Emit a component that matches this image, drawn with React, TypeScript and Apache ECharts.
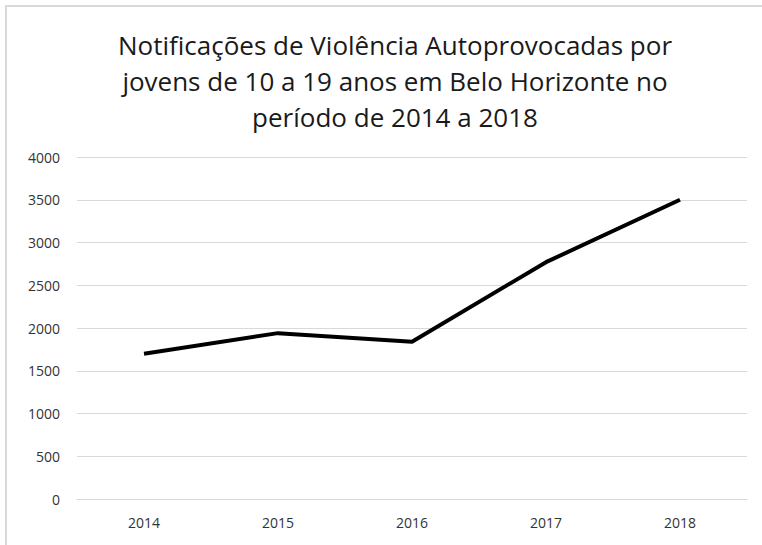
import React, { useEffect, useRef } from "react";
import * as echarts from "echarts";

const categories = ["2014", "2015", "2016", "2017", "2018"];
const values = [1700, 1940, 1840, 2770, 3500];
const yTicks = [0, 500, 1000, 1500, 2000, 2500, 3000, 3500, 4000];
const titleText = "Notificações de Violência Autoprovocadas por\njovens de 10 a 19 anos em Belo Horizonte no\nperíodo de 2014 a 2018";

export default function App() {
  const ref = useRef<HTMLDivElement>(null);
  useEffect(() => {
    if (!ref.current) return;
    const chart = echarts.init(ref.current, null, { renderer: "svg" });
    chart.setOption({
      animation: false,
      backgroundColor: "#ffffff",
      title: {
        text: titleText,
        left: 390,
        top: 22,
        textAlign: "center",
        textStyle: {
          fontFamily: "Open Sans",
          fontSize: 26,
          fontWeight: "normal",
          color: "#1a1a1a",
          lineHeight: 36,
        },
      },
      graphic: [
        {
          type: "rect",
          shape: { x: 6, y: 6, width: 780, height: 560 },
          style: { fill: "none", stroke: "#d9d9d9", lineWidth: 2 },
          silent: true,
        },
      ],
      grid: { left: 77, right: 15, top: 157, bottom: 46, containLabel: false },
      xAxis: {
        type: "category",
        data: categories,
        boundaryGap: true,
        axisLine: { show: true, lineStyle: { color: "#d9d9d9", width: 1 } },
        axisTick: { show: false },
        axisLabel: { color: "#333333", fontSize: 14, fontFamily: "Open Sans", margin: 16 },
      },
      yAxis: {
        type: "value",
        min: yTicks[0],
        max: yTicks[yTicks.length - 1],
        interval: 500,
        axisLine: { show: false },
        axisTick: { show: false },
        splitLine: { lineStyle: { color: "#d9d9d9", width: 1 } },
        axisLabel: {
          color: "#333333",
          fontSize: 14,
          fontFamily: "Open Sans",
          margin: 17,
          formatter: (v: number) => String(v),
        },
      },
      series: [
        {
          type: "line",
          data: values,
          symbol: "none",
          lineStyle: { color: "#000000", width: 4 },
        },
      ],
    });
    return () => chart.dispose();
  }, []);
  return <div ref={ref} style={{ width: 762, height: 545, position: "fixed", left: 0, top: 0 }} />;
}
